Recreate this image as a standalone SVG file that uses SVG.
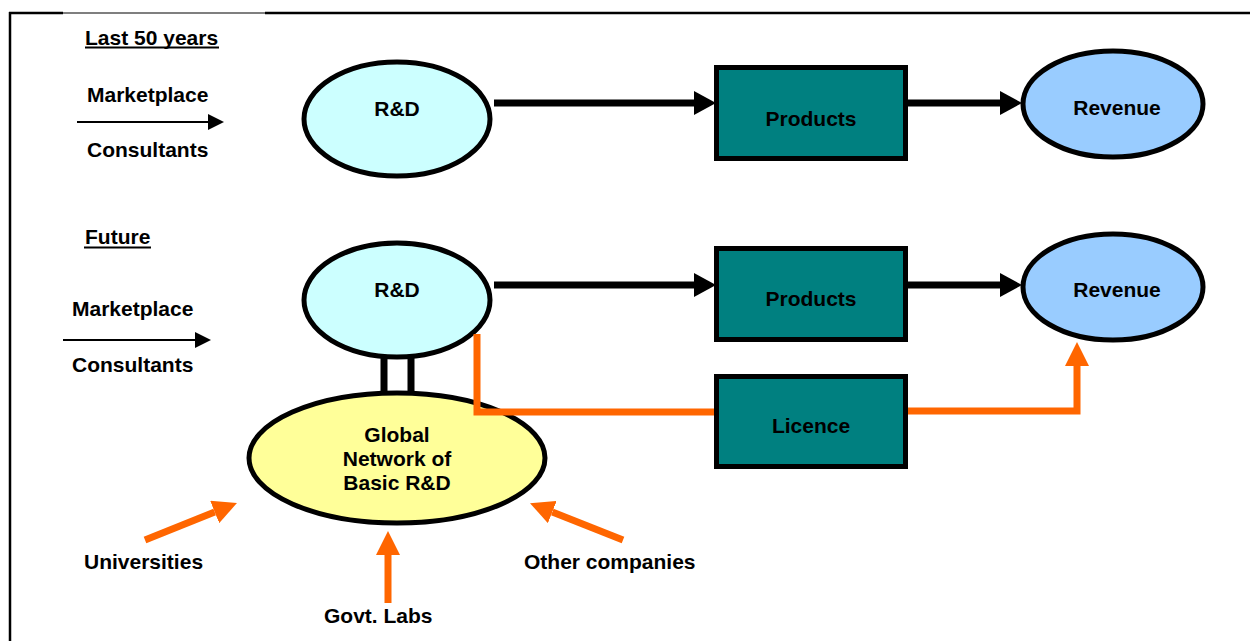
<svg xmlns="http://www.w3.org/2000/svg" width="1250" height="641" viewBox="0 0 1250 641">
<style>
text{font-family:"Liberation Sans",Arial,sans-serif;font-weight:bold;font-size:21px;fill:#000}
.c{text-anchor:middle}
.node{stroke:#000;stroke-width:5}
.blk{stroke:#000;stroke-width:7;fill:none}
.org{stroke:#FF6600;stroke-width:7;fill:none}
.thin{stroke:#000;stroke-width:2;fill:none}
</style>
<defs>
<marker id="ahB" markerUnits="userSpaceOnUse" markerWidth="22" markerHeight="24" viewBox="0 0 22 24" refX="0" refY="12" orient="auto"><path d="M0,0 L22,12 L0,24 z" fill="#000"/></marker>
<marker id="ahO" markerUnits="userSpaceOnUse" markerWidth="24" markerHeight="24" viewBox="0 0 24 24" refX="0" refY="12" orient="auto"><path d="M0,0 L24,12 L0,24 z" fill="#FF6600"/></marker>
<marker id="ahS" markerUnits="userSpaceOnUse" markerWidth="16" markerHeight="16" viewBox="0 0 16 16" refX="0" refY="8" orient="auto"><path d="M0,0 L16,8 L0,16 z" fill="#000"/></marker>
</defs>
<rect width="1250" height="641" fill="#fff"/>
<g id="frame">
<path d="M9,13 H63 M265,13 H1250 M10,12 V641" stroke="#000" stroke-width="2.5" fill="none"/>
<path d="M63,13 H265" stroke="#000" stroke-width="1.2"/>
</g>
<g id="labels">
<text x="85" y="45">Last 50 years</text>
<path d="M85,47.5 H219" stroke="#000" stroke-width="2"/>
<text x="87" y="102">Marketplace</text>
<text x="87" y="157">Consultants</text>
<text x="85" y="244">Future</text>
<path d="M84,247.5 H151" stroke="#000" stroke-width="2"/>
<text x="72" y="316">Marketplace</text>
<text x="72" y="372">Consultants</text>
<text x="84" y="569">Universities</text>
<text x="324" y="623">Govt. Labs</text>
<text x="524" y="569">Other companies</text>
</g>
<g id="rd1"><ellipse class="node" cx="397" cy="119" rx="93" ry="57" fill="#CCFFFF"/><text class="c" x="397" y="116">R&amp;D</text></g>
<g id="products1"><rect class="node" x="716.5" y="67.5" width="189" height="91" fill="#008080"/><text class="c" x="811" y="126">Products</text></g>
<g id="revenue1"><ellipse class="node" cx="1113" cy="104" rx="90" ry="53" fill="#99CCFF"/><text class="c" x="1117" y="115">Revenue</text></g>
<g id="rd2"><ellipse class="node" cx="397" cy="300" rx="93" ry="57" fill="#CCFFFF"/><text class="c" x="397" y="297">R&amp;D</text></g>
<g id="products2"><rect class="node" x="716.5" y="248.5" width="189" height="91" fill="#008080"/><text class="c" x="811" y="306">Products</text></g>
<g id="revenue2"><ellipse class="node" cx="1113" cy="287" rx="90" ry="53" fill="#99CCFF"/><text class="c" x="1117" y="297">Revenue</text></g>
<g id="licence"><rect class="node" x="716.5" y="376.5" width="189" height="90" fill="#008080"/><text class="c" x="811" y="433">Licence</text></g>
<g id="global"><ellipse class="node" cx="397" cy="458" rx="148" ry="65" fill="#FFFF99"/>
<text class="c" x="397" y="442">Global</text><text class="c" x="397" y="466">Network of</text><text class="c" x="397" y="490">Basic R&amp;D</text></g>
<g id="connectors">
<line class="thin" x1="77" y1="122" x2="208" y2="122" marker-end="url(#ahS)"/>
<line class="thin" x1="63" y1="340" x2="195" y2="340" marker-end="url(#ahS)"/>
<line class="blk" x1="494" y1="103" x2="694" y2="103" marker-end="url(#ahB)"/>
<line class="blk" x1="908" y1="103" x2="1000" y2="103" marker-end="url(#ahB)"/>
<line class="blk" x1="494" y1="285" x2="694" y2="285" marker-end="url(#ahB)"/>
<line class="blk" x1="908" y1="285" x2="1000" y2="285" marker-end="url(#ahB)"/>
<path d="M384,358 V394 M411,358 V394" stroke="#000" stroke-width="7" fill="none"/>
<path class="org" d="M477,334 V412 H714"/>
<path class="org" d="M908,411 H1077 V366" marker-end="url(#ahO)"/>
<line class="org" x1="145" y1="540" x2="214.7" y2="512" marker-end="url(#ahO)"/>
<line class="org" x1="388" y1="603" x2="388" y2="555" marker-end="url(#ahO)"/>
<line class="org" x1="623" y1="540" x2="552.3" y2="512" marker-end="url(#ahO)"/>
</g>
</svg>
